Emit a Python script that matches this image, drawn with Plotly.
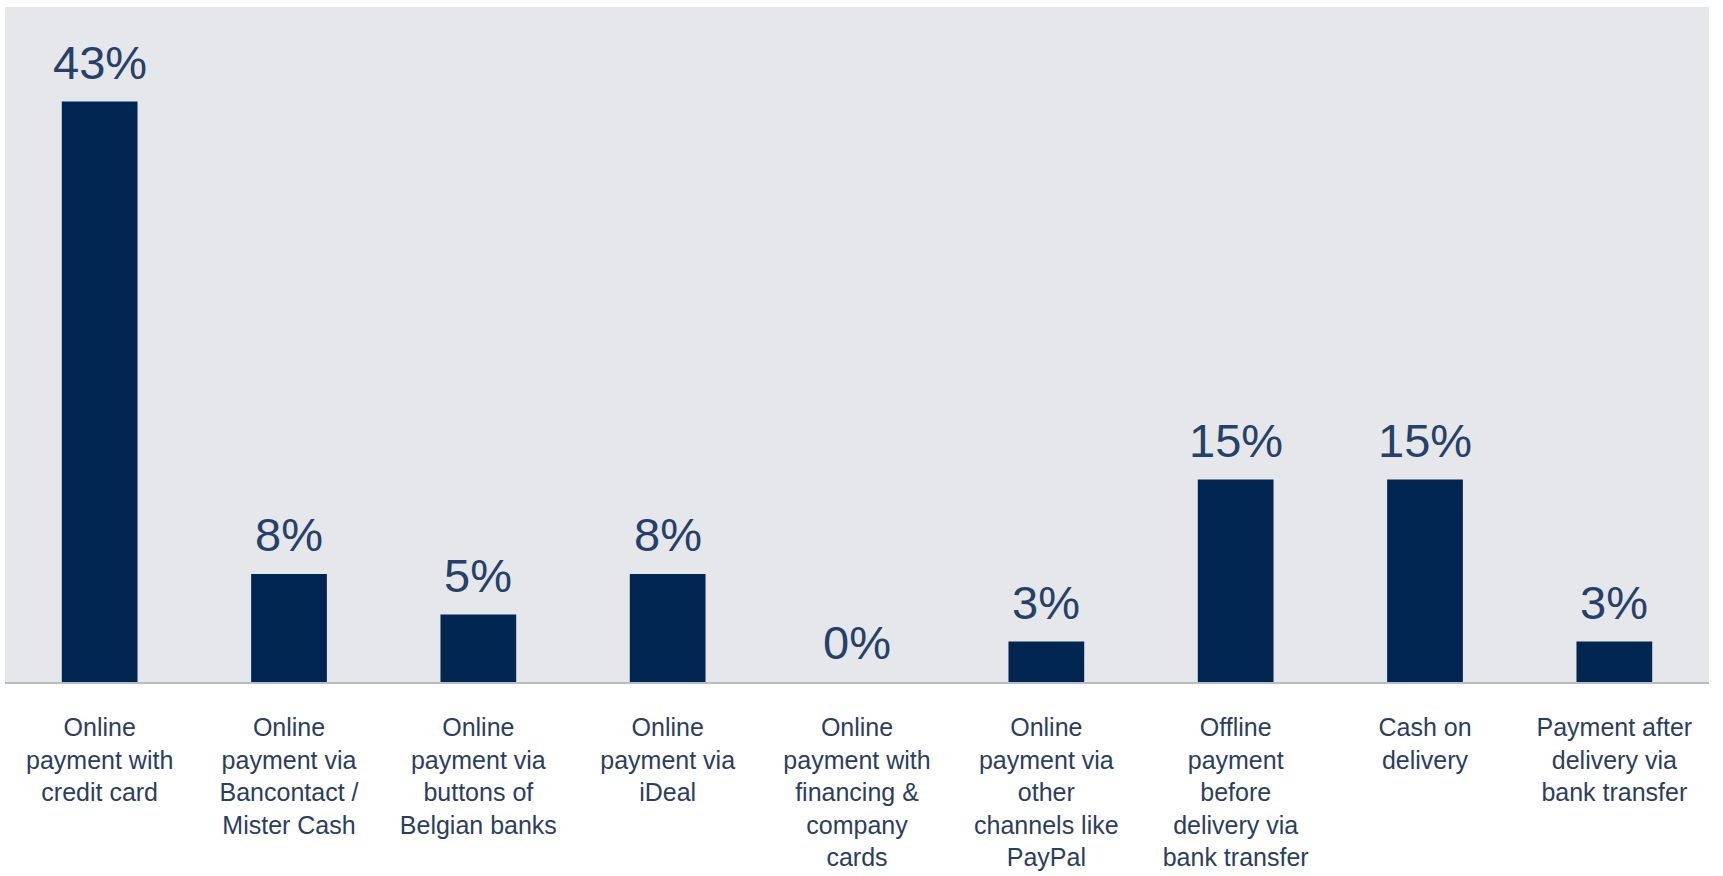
import plotly.graph_objects as go

categories = [
    "Online<br>payment with<br>credit card",
    "Online<br>payment via<br>Bancontact /<br>Mister Cash",
    "Online<br>payment via<br>buttons of<br>Belgian banks",
    "Online<br>payment via<br>iDeal",
    "Online<br>payment with<br>financing &<br>company<br>cards",
    "Online<br>payment via<br>other<br>channels like<br>PayPal",
    "Offline<br>payment<br>before<br>delivery via<br>bank transfer",
    "Cash on<br>delivery",
    "Payment after<br>delivery via<br>bank transfer",
]
shares = [43, 8, 5, 8, 0, 3, 15, 15, 3]

BAR = "#022652"
VALUE_TEXT = "#25416a"
TICK_TEXT = "#2b3e5e"
PLOT_BG = "#e5e7ea"
FONT = "Liberation Sans, Arial, sans-serif"

fig = go.Figure(
    go.Bar(
        x=categories,
        y=shares,
        marker=dict(color=BAR, line=dict(width=0)),
        hoverinfo="skip",
    )
)

# value labels above each bar
for cat, val in zip(categories, shares):
    fig.add_annotation(
        x=cat, y=val, text=f"{val}%", showarrow=False,
        yanchor="bottom", yshift=11,
        font=dict(family=FONT, size=47, color=VALUE_TEXT),
    )

fig.update_layout(
    width=1723, height=876,
    margin=dict(l=5, r=14, t=7, b=194),
    paper_bgcolor="white",
    plot_bgcolor=PLOT_BG,
    bargap=0.6,
    showlegend=False,
    font=dict(family=FONT, size=25, color=TICK_TEXT),
)
fig.update_xaxes(
    showline=True, linecolor="#b9bdc3", linewidth=2,
    ticks="outside", ticklen=22, tickcolor="rgba(0,0,0,0)",
    tickfont=dict(family=FONT, size=25, color=TICK_TEXT),
    tickangle=0, showgrid=False, automargin=False,
)
fig.update_yaxes(range=[0, 50], visible=False, showgrid=False, zeroline=False,
                 automargin=False)

fig.write_html("out.html", config={"displayModeBar": False})
